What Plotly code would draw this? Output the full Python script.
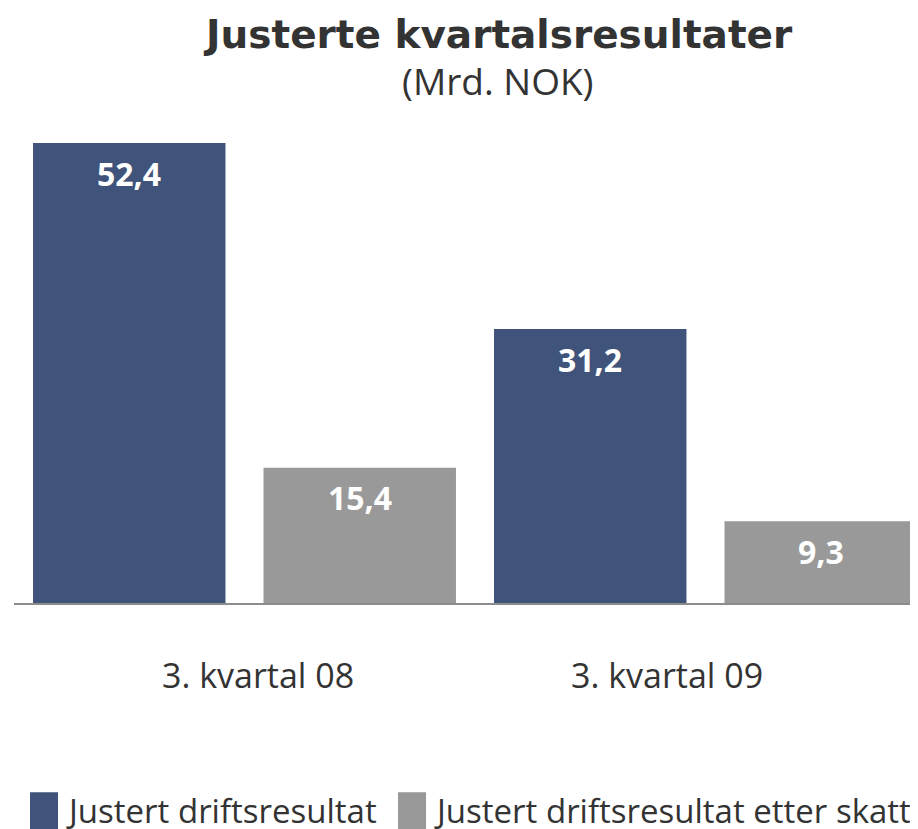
import plotly.graph_objects as go

categories = ["3. kvartal 08", "3. kvartal 09"]
series_names = ["Justert driftsresultat", "Justert driftsresultat etter skatt"]
drift = [52.4, 31.2]
etter_skatt = [15.4, 9.3]
title_text = "Justerte kvartalsresultater"
subtitle_text = "(Mrd. NOK)"

colors = ["#40537A", "#999999"]
xpos = list(range(len(categories)))

fig = go.Figure()
for name, vals, col in zip(series_names, [drift, etter_skatt], colors):
    fig.add_trace(go.Bar(x=xpos, y=vals, name=name, marker=dict(color=col, line=dict(width=0)),
                         showlegend=False, hoverinfo="skip"))

H_FONT = "Open Sans, DejaVu Sans, sans-serif"
TXT = "#333333"
annotations = []
# data labels
for si, vals in enumerate([drift, etter_skatt]):
    off = -0.25 if si == 0 else 0.25
    for i, v in enumerate(vals):
        annotations.append(dict(x=xpos[i] + off, y=v, xref="x", yref="y",
                                text=f"{v:.1f}".replace(".", ","), showarrow=False,
                                yshift=-30, yanchor="middle",
                                font=dict(family=H_FONT, size=32, color="white", weight="bold")))
# category labels
shifts = [14, -38]
for i, c in enumerate(categories):
    annotations.append(dict(x=xpos[i], y=-0.143, xref="x", yref="paper", text=c, showarrow=False,
                            xshift=shifts[i], yanchor="middle",
                            font=dict(family=H_FONT, size=34, color=TXT)))
# title
annotations.append(dict(x=0.535, y=1.131, xref="paper", yref="paper", text=title_text, showarrow=False,
                        yanchor="middle",
                        font=dict(family="DejaVu Sans, Verdana, sans-serif", size=39, color=TXT, weight="bold")))
annotations.append(dict(x=0.535, y=1.038, xref="paper", yref="paper", text=subtitle_text, showarrow=False,
                        yanchor="middle", font=dict(family=H_FONT, size=37, color=TXT)))
# legend (manual)
shapes = []
leg_x = [(0.0177, 0.0487, 0.0553), (0.4248, 0.4558, 0.4624)]
for (x0, x1, tx), name, col in zip(leg_x, series_names, colors):
    shapes.append(dict(type="rect", xref="paper", yref="paper", x0=x0, x1=x1, y0=-0.46, y1=-0.376,
                       fillcolor=col, line=dict(width=0)))
    annotations.append(dict(x=tx, y=-0.413, xref="paper", yref="paper", text=name, showarrow=False,
                            xanchor="left", yanchor="middle",
                            font=dict(family=H_FONT, size=33, color=TXT)))

# the page body adds an 8px offset, so the figure is 8px smaller on each axis
fig.update_layout(
    width=910, height=821,
    margin=dict(l=6, r=0, t=92, b=226),
    paper_bgcolor="white", plot_bgcolor="white",
    barmode="group", bargap=0, bargroupgap=0.165,
    xaxis=dict(range=[-0.5, 1.461], showticklabels=False, showgrid=False, zeroline=False,
               showline=True, linecolor="#8c8c8c", linewidth=2, ticks=""),
    yaxis=dict(range=[0, 57.3], visible=False),
    annotations=annotations, shapes=shapes,
)
fig.write_html("out.html")
